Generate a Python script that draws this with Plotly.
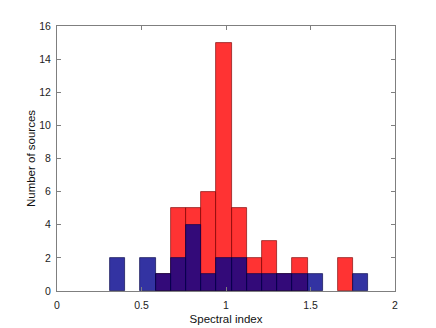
import plotly.graph_objects as go

# histogram bins (spectral index) and counts per bin
bin_edges = [0.314, 0.404, 0.494, 0.584, 0.674, 0.764, 0.853, 0.943, 1.033,
             1.123, 1.213, 1.303, 1.393, 1.483, 1.573, 1.663, 1.752, 1.842]
red_counts = [0, 0, 0, 1, 5, 5, 6, 15, 5, 2, 3, 1, 2, 0, 0, 2, 0]
blue_counts = [2, 0, 2, 1, 2, 4, 1, 2, 2, 1, 1, 1, 1, 1, 0, 0, 1]

x_ticks = [0, 0.5, 1, 1.5, 2]
x_labels = ['0', '0.5', '1', '1.5', '2']
y_ticks = list(range(0, 17, 2))

centers = [(a + b) / 2 for a, b in zip(bin_edges[:-1], bin_edges[1:])]
widths = [b - a for a, b in zip(bin_edges[:-1], bin_edges[1:])]

# empty bins are not drawn at all
red_y = [c if c else None for c in red_counts]
blue_y = [c if c else None for c in blue_counts]

fig = go.Figure()
fig.add_trace(go.Bar(x=centers, y=red_y, width=widths,
                     marker=dict(color='rgba(255,0,0,0.8)',
                                 line=dict(color='rgba(120,0,0,0.8)', width=0.8))))
fig.add_trace(go.Bar(x=centers, y=blue_y, width=widths,
                     marker=dict(color='rgba(0,0,139,0.8)',
                                 line=dict(color='rgba(0,0,70,0.8)', width=0.8))))

axis_common = dict(showline=True, mirror='ticks', linecolor='#7f7f7f', linewidth=1,
                   ticks='inside', ticklen=4, tickcolor='#7f7f7f',
                   showgrid=False, zeroline=False,
                   tickfont=dict(family='Liberation Sans, Arial', size=10.5, color='#222'))

fig.update_layout(
    width=436, height=328,
    margin=dict(l=49, r=49, t=16, b=45),
    barmode='overlay', bargap=0,
    showlegend=False,
    plot_bgcolor='white', paper_bgcolor='white',
    xaxis=dict(range=[0, 2], tickvals=x_ticks, ticktext=x_labels, ticklabelstandoff=4,
               title=dict(text='Spectral index', standoff=5,
                          font=dict(family='Liberation Sans, Arial', size=11.5, color='#111')),
               **axis_common),
    yaxis=dict(range=[0, 16], tickvals=y_ticks, ticklabelstandoff=3,
               title=dict(text='Number of sources', standoff=1,
                          font=dict(family='Liberation Sans, Arial', size=11.5, color='#111')),
               **axis_common),
)

fig.write_html("out.html")
